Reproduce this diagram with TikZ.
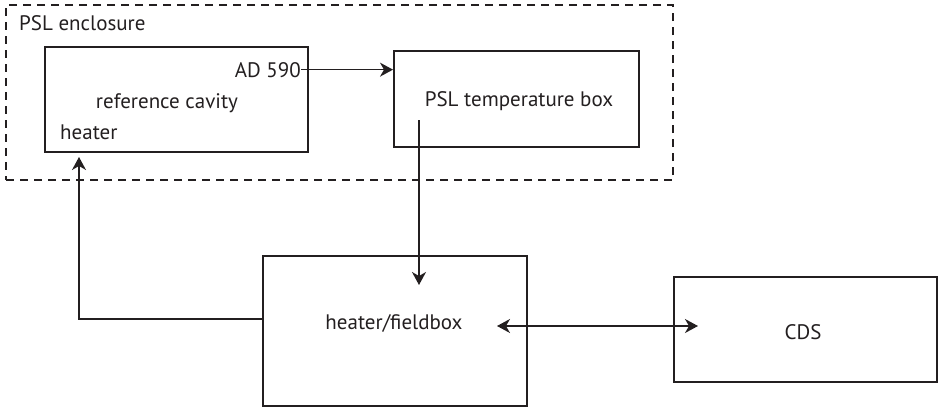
\documentclass[tikz,border=0pt]{standalone}
\usepackage{fontspec}
\setmainfont{PT Sans}
\usetikzlibrary{arrows.meta}
\definecolor{ink}{HTML}{231F20}

\begin{document}
\begin{tikzpicture}[x=1pt, y=-1pt, ink,
  box/.style={draw=ink, line width=2pt, inner sep=0pt},
  lbl/.style={inner sep=0pt, text=ink, font=\fontsize{21}{24}\selectfont},
  arr/.style={line width=1.4pt, -{Stealth[length=13pt, width=14pt, inset=4pt]}},
  arrboth/.style={line width=1.4pt, {Stealth[length=13pt, width=14pt, inset=4pt]}-{Stealth[length=13pt, width=14pt, inset=4pt]}}]
\useasboundingbox (0,0) rectangle (938,407);

% enclosure
\node[draw=ink, dashed, line width=1.2pt, dash pattern=on 8pt off 6pt,
      minimum width=667pt, minimum height=175pt, inner sep=0pt] (enclosure) at (339.5,92.5) {};
\node[lbl, anchor=base west] (enclabel) at (19,30) {PSL enclosure};

% boxes
\node[box, minimum width=263pt, minimum height=105pt] (cavity) at (176.5,99.5) {};
\node[box, minimum width=245pt, minimum height=96pt] (temp) at (516.5,99) {};
\node[box, minimum width=264pt, minimum height=150pt] (fieldbox) at (395,331) {};
\node[box, minimum width=263pt, minimum height=105pt] (cds) at (805.5,329.5) {};

% texts
\node[lbl, anchor=base east] (ad590) at (301,77) {AD 590};
\node[lbl, anchor=base] (cavlabel) at (167,108) {reference cavity};
\node[lbl, anchor=base west] (heater) at (60,139) {heater};
\node[lbl, anchor=base] (templabel) at (519,106) {PSL temperature box};
\node[lbl, anchor=base] (fblabel) at (394,329) {heater/fieldbox};
\node[lbl, anchor=base] (cdslabel) at (803,339) {CDS};

% connections
\coordinate (tempout) at (419,120);
\coordinate (fbin) at (419,285);
\coordinate (fbout) at (263,319);
\coordinate (heatin) at (79,157);
\coordinate (fbio) at (497,326);
\coordinate (cdsio) at (698,326);

\draw[arr] (ad590.east) -- (ad590.east -| temp.west);
\draw[arr] (tempout) -- (fbin);
\draw[arr] (fbout) -| (heatin);
\draw[arrboth] (fbio) -- (cdsio);
\end{tikzpicture}
\end{document}
